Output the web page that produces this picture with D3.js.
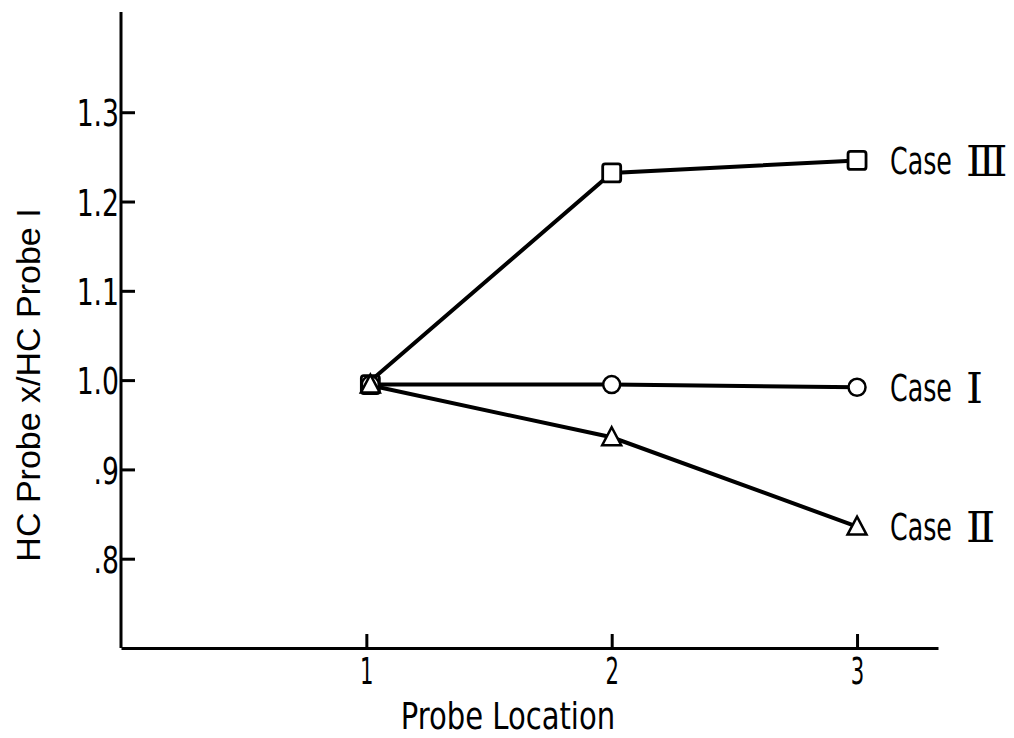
<!DOCTYPE html>
<html>
<head>
<meta charset="utf-8">
<script src="https://cdn.jsdelivr.net/npm/d3@7"></script>
<style>
  body { margin: 0; background: #fff; }
  text { font-family: 'DejaVu Sans Condensed', 'DejaVu Sans', sans-serif; fill: #000; }
  .roman { font-family: 'DejaVu Serif', 'Liberation Serif', serif; }
</style>
</head>
<body>
<svg width="1014" height="738"></svg>
<script>
const locations = [1, 2, 3];
const caseI = [0.995, 0.995, 0.992];
const caseII = [0.995, 0.936, 0.836];
const caseIII = [0.995, 1.232, 1.246];
const caseNames = ['Case', 'Case', 'Case'];
const caseNumerals = ['\u2160', '\u2161', '\u2162'];
const yTicks = [0.8, 0.9, 1.0, 1.1, 1.2, 1.3];
const yTickLabels = ['.8', '.9', '1.0', '1.1', '1.2', '1.3'];
const xTickLabels = ['1', '2', '3'];

const series = [
    { values: caseI, marker: 'circle', name: caseNames[0], num: caseNumerals[0] },
    { values: caseII, marker: 'triangle', name: caseNames[1], num: caseNumerals[1] },
    { values: caseIII, marker: 'square', name: caseNames[2], num: caseNumerals[2] }
];

const svg = d3.select('svg');

const xScale = d3.scaleLinear()
    .domain([0, 3.33])
    .range([121, 938]);

const yScale = d3.scaleLinear()
    .domain([0.7, 1.41])
    .range([648, 14]);

const yAxis = d3.axisLeft(yScale)
    .tickValues(yTicks)
    .tickFormat((d, i) => yTickLabels[i])
    .tickSizeInner(-14)
    .tickSizeOuter(0)
    .tickPadding(2);

const xAxis = d3.axisBottom(xScale)
    .tickValues(locations)
    .tickFormat((d, i) => xTickLabels[i])
    .tickSizeInner(-14)
    .tickSizeOuter(0)
    .tickPadding(9);

// narrow typeface of the original: squeeze glyphs horizontally
const yLabelSqueeze = 0.78;
const xLabelSqueeze = 0.62;

const gy = svg.append('g')
    .attr('transform', `translate(${xScale.range()[0]}, 0)`)
    .call(yAxis);
gy.select('.domain').attr('stroke-width', 3).attr('d', `M0,${yScale.range()[0]}V${yScale.range()[1] - 2}`);
gy.selectAll('.tick line').attr('stroke-width', 3);
gy.selectAll('.tick text')
    .style('font-size', '38px')
    .attr('dy', '0.36em')
    .attr('x', -2 / yLabelSqueeze)
    .attr('transform', `scale(${yLabelSqueeze},1)`);

const gx = svg.append('g')
    .attr('transform', `translate(0, ${yScale.range()[0]})`)
    .call(xAxis);
gx.select('.domain').attr('stroke-width', 3);
gx.selectAll('.tick line').attr('stroke-width', 3);
gx.selectAll('.tick text')
    .style('font-size', '38px')
    .attr('dy', '0.71em')
    .attr('transform', `scale(${xLabelSqueeze},1)`);

svg.append('text')
    .attr('transform', 'rotate(-90)')
    .attr('x', -385)
    .attr('y', 40)
    .style('text-anchor', 'middle')
    .style('font-family', "'Liberation Sans', Arial, sans-serif")
    .style('font-size', '34px')
    .text('HC Probe x/HC Probe I');

svg.append('text')
    .attr('transform', 'translate(508,729) scale(0.85,1)')
    .style('text-anchor', 'middle')
    .style('font-size', '38px')
    .text('Probe Location');

const line = d3.line()
    .x((d, i) => xScale(locations[i]))
    .y(d => yScale(d));

svg.selectAll('.series')
    .data(series)
    .enter()
    .append('path')
    .attr('d', d => line(d.values))
    .attr('fill', 'none')
    .attr('stroke', '#000')
    .attr('stroke-width', 4);

const labelX = xScale(locations[locations.length - 1]) + 33;

series.forEach(s => {
    const g = svg.append('g');
    s.values.forEach((v, i) => {
        const cx = xScale(locations[i]) + (i === 0 ? 4 : 0);
        const cy = yScale(v);
        if (s.marker === 'circle') {
            g.append('circle')
                .attr('cx', cx).attr('cy', cy).attr('r', 8.5)
                .attr('fill', '#fff').attr('stroke', '#000').attr('stroke-width', 2.5);
        } else if (s.marker === 'square') {
            g.append('rect')
                .attr('x', cx - 9).attr('y', cy - 9).attr('width', 18).attr('height', 18)
                .attr('rx', 2.5)
                .attr('fill', i === 0 ? 'none' : '#fff').attr('stroke', '#000').attr('stroke-width', 2.8);
        } else {
            g.append('path')
                .attr('d', `M${cx},${cy - 10}L${cx + 9.5},${cy + 8}L${cx - 9.5},${cy + 8}Z`)
                .attr('fill', '#fff').attr('stroke', '#000').attr('stroke-width', 2.5);
        }
    });
    const cy = yScale(s.values[s.values.length - 1]);
    svg.append('text')
        .attr('transform', `translate(${labelX},${cy}) scale(0.74,1)`)
        .attr('dy', '0.36em')
        .style('font-size', '38px')
        .text(s.name);
    svg.append('text')
        .attr('class', 'roman')
        .attr('x', labelX + 76)
        .attr('y', cy)
        .attr('dy', '0.36em')
        .style('font-size', '43px')
        .text(s.num);
});
</script>
</body>
</html>
